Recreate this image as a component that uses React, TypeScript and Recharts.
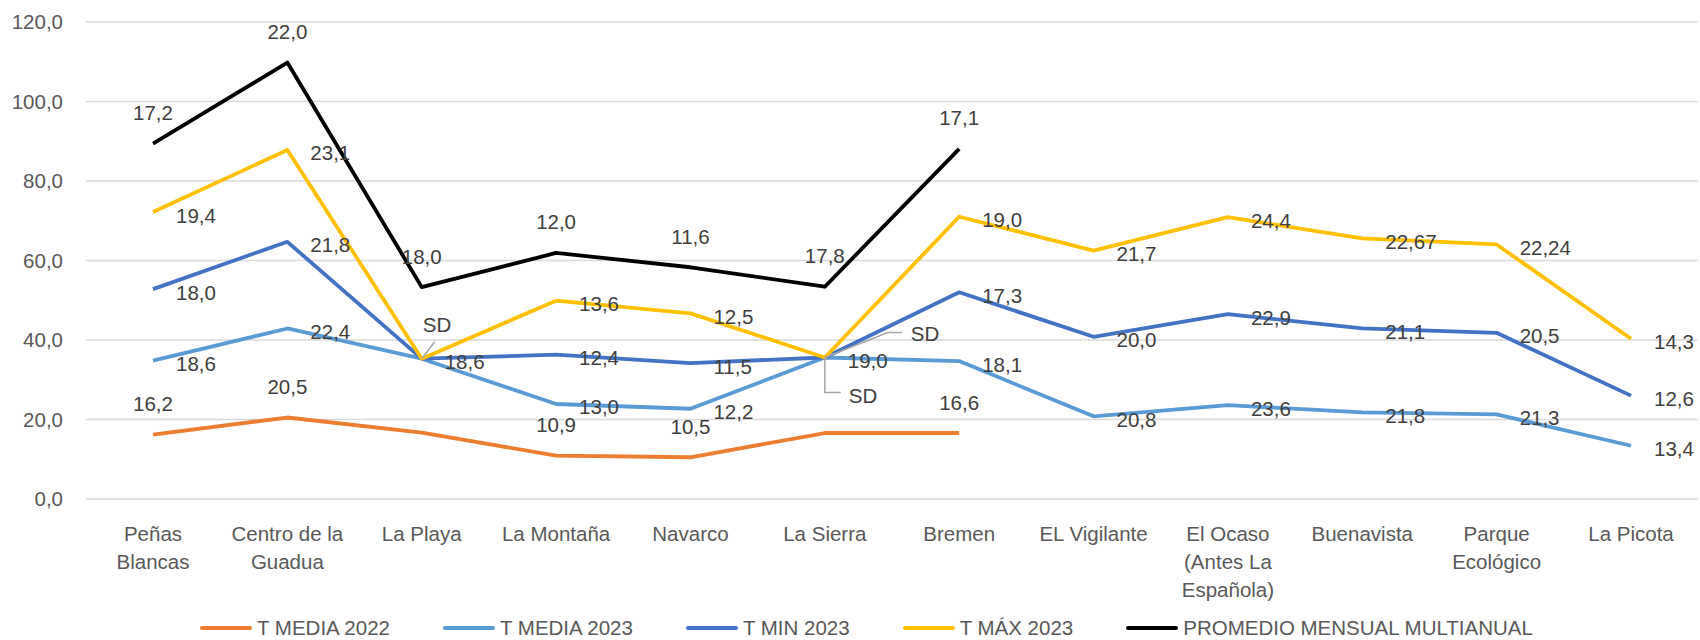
import { ComposedChart, Area, XAxis, YAxis, CartesianGrid, Legend } from "recharts";

const categories = [
  "Peñas\nBlancas",
  "Centro de la\nGuadua",
  "La Playa",
  "La Montaña",
  "Navarco",
  "La Sierra",
  "Bremen",
  "EL Vigilante",
  "El Ocaso\n(Antes La\nEspañola)",
  "Buenavista",
  "Parque\nEcológico",
  "La Picota",
];

// null = sin dato (SD) o sin serie
const tMedia2022 = [16.2, 20.5, 16.7, 10.9, 10.5, 16.6, 16.6, null, null, null, null, null];
const tMedia2023 = [18.6, 22.4, 18.6, 13.0, 12.2, 19.0, 18.1, 20.8, 23.6, 21.8, 21.3, 13.4];
const tMin2023 = [18.0, 21.8, null, 12.4, 11.5, null, 17.3, 20.0, 22.9, 21.1, 20.5, 12.6];
const tMax2023 = [19.4, 23.1, null, 13.6, 12.5, null, 19.0, 21.7, 24.4, 22.67, 22.24, 14.3];
const promedio = [17.2, 22.0, 18.0, 12.0, 11.6, 17.8, 17.1, null, null, null, null, null];

const yTicks = [0, 20, 40, 60, 80, 100, 120];

const FONT = "'Liberation Sans', Arial, sans-serif";
const FS = 20.5;
const LABEL_COLOR = "#404040";
const AXIS_COLOR = "#595959";

type Pos = "above" | "right";

const series = [
  { key: "tMedia2022", name: "T MEDIA 2022", color: "#ED7D31", values: tMedia2022, pos: "above" as Pos, sdAsZero: false, hidden: [2, 5] },
  { key: "tMedia2023", name: "T MEDIA 2023", color: "#5B9BD5", values: tMedia2023, pos: "right" as Pos, sdAsZero: false, hidden: [] as number[] },
  { key: "tMin2023", name: "T MIN 2023", color: "#4472C4", values: tMin2023, pos: "right" as Pos, sdAsZero: true, hidden: [2] },
  { key: "tMax2023", name: "T MÁX 2023", color: "#FFC000", values: tMax2023, pos: "right" as Pos, sdAsZero: true, hidden: [] as number[] },
  { key: "promedio", name: "PROMEDIO MENSUAL MULTIANUAL", color: "#000000", values: promedio, pos: "above" as Pos, sdAsZero: false, hidden: [] as number[] },
];

const data = categories.map((name, i) => {
  const row: any = { name };
  series.forEach((s) => {
    const v = s.values[i];
    row[s.key] = v == null && s.sdAsZero ? 0 : v;
  });
  return row;
});

const fmt = (v: number) => {
  const oneDec = Math.abs(v * 10 - Math.round(v * 10)) < 1e-6;
  return (oneDec ? v.toFixed(1) : v.toFixed(2)).replace(".", ",");
};

const LEADER = "#a6a6a6";

// etiquetas "SD" movidas a mano en el original
const sdLabel = (key: string, index: number, x: number, y: number) => {
  const textProps = { fontFamily: FONT, fontSize: FS, fill: LABEL_COLOR, dominantBaseline: "central" as const };
  if (key === "tMax2023" && index === 2) {
    return (
      <g>
        <polyline points={`${x},${y} ${x + 13},${y - 17}`} stroke={LEADER} strokeWidth={1.5} fill="none" />
        <text x={x + 1} y={y - 34} {...textProps}>SD</text>
      </g>
    );
  }
  if (key === "tMin2023" && index === 5) {
    return (
      <g>
        <polyline points={`${x},${y} ${x + 63},${y - 25} ${x + 77},${y - 25}`} stroke={LEADER} strokeWidth={1.5} fill="none" />
        <text x={x + 86} y={y - 24} {...textProps}>SD</text>
      </g>
    );
  }
  if (key === "tMax2023" && index === 5) {
    return (
      <g>
        <polyline points={`${x},${y} ${x},${y + 35} ${x + 16},${y + 35}`} stroke={LEADER} strokeWidth={1.5} fill="none" />
        <text x={x + 24} y={y + 38} {...textProps}>SD</text>
      </g>
    );
  }
  return <g />;
};

const makeLabel = (s: (typeof series)[number]) => (props: any) => {
  const { x, y, index } = props;
  if (x == null || y == null || Number.isNaN(x) || Number.isNaN(y)) return <g key={`${s.key}-${index}`} />;
  if (s.hidden.includes(index)) return <g key={`${s.key}-${index}`} />;
  const raw = s.values[index];
  if (raw == null) {
    if (!s.sdAsZero) return <g key={`${s.key}-${index}`} />;
    return <g key={`${s.key}-${index}`}>{sdLabel(s.key, index, x, y)}</g>;
  }
  const text = fmt(raw);
  if (s.pos === "above") {
    return (
      <text key={`${s.key}-${index}`} x={x} y={y - 31} textAnchor="middle" dominantBaseline="central"
        fontFamily={FONT} fontSize={FS} fill={LABEL_COLOR}>
        {text}
      </text>
    );
  }
  return (
    <text key={`${s.key}-${index}`} x={x + 23} y={y + 3} textAnchor="start" dominantBaseline="central"
      fontFamily={FONT} fontSize={FS} fill={LABEL_COLOR}>
      {text}
    </text>
  );
};

const CategoryTick = ({ x, y, payload }: any) => {
  const lines = String(payload.value).split("\n");
  return (
    <text x={x} y={y} textAnchor="middle" fill={AXIS_COLOR} fontSize={FS} fontFamily={FONT}>
      {lines.map((l, i) => (
        <tspan key={i} x={x} dy={i === 0 ? 42 : 28}>
          {l}
        </tspan>
      ))}
    </text>
  );
};

const LegendRow = () => (
  <div style={{ display: "flex", alignItems: "center", height: 24, paddingTop: 3, paddingLeft: 200, gap: 53, fontFamily: FONT, fontSize: FS, color: AXIS_COLOR, whiteSpace: "nowrap" }}>
    {series.map((s) => (
      <div key={s.key} style={{ display: "flex", alignItems: "center" }}>
        <span style={{ display: "inline-block", width: 52, height: 4, background: s.color, borderRadius: 2, marginRight: 5 }} />
        <span>{s.name}</span>
      </div>
    ))}
  </div>
);

export default function App() {
  return (
    <div style={{ position: "absolute", left: 0, top: 0, width: 1700, height: 640, background: "#fff" }}>
      <ComposedChart width={1700} height={640} data={data} margin={{ top: 22, right: 2, left: 0, bottom: 0 }}>
        <CartesianGrid vertical={false} stroke="#d9d9d9" strokeWidth={1.6} />
        <XAxis
          dataKey="name"
          interval={0}
          padding={{ left: 67, right: 67 }}
          tickLine={false}
          axisLine={false}
          tickSize={0}
          tickMargin={0}
          height={114}
          tick={<CategoryTick />}
        />
        <YAxis
          width={86}
          domain={[0, 120]}
          ticks={yTicks}
          tickLine={false}
          axisLine={false}
          tickSize={0}
          tickMargin={23}
          tickFormatter={(v: number) => v.toFixed(1).replace(".", ",")}
          tick={{ fill: AXIS_COLOR, fontSize: FS, fontFamily: FONT }}
        />
        <Legend verticalAlign="bottom" height={27} content={() => <LegendRow />} />
        {series.map((s) => (
          <Area
            key={s.key}
            type="linear"
            dataKey={s.key}
            name={s.name}
            stackId="1"
            stroke={s.color}
            strokeWidth={3.8}
            strokeLinejoin="round"
            fill="none"
            fillOpacity={0}
            dot={false}
            activeDot={false}
            isAnimationActive={false}
            label={makeLabel(s)}
          />
        ))}
      </ComposedChart>
    </div>
  );
}
